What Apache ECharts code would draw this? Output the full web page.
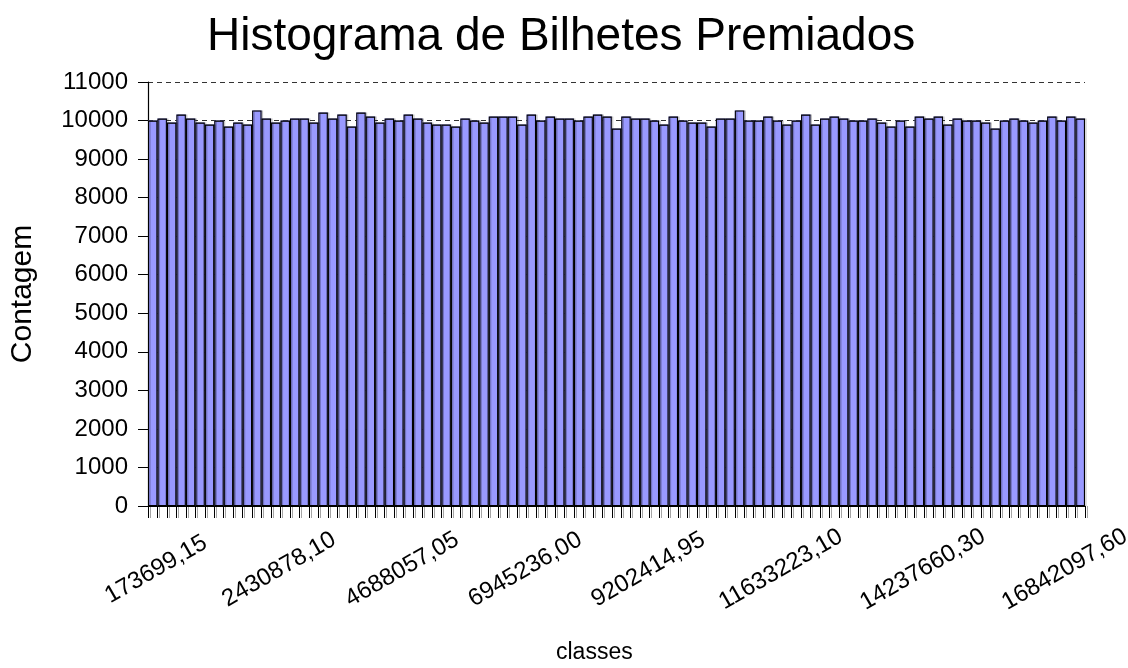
<!DOCTYPE html>
<html>
<head>
<meta charset="utf-8">
<script src="https://cdn.jsdelivr.net/npm/echarts@6/dist/echarts.min.js"></script>
<style>
html,body{margin:0;padding:0;background:#fff;}
#c{width:1128px;height:668px;}
</style>
</head>
<body>
<div id="c"></div>
<script>
// Bin counts (99 bins)
var counts = [
 10000,10052,9948,10156,10052,9948,9896,10000,9844,9948,
 9896,10260,10052,9948,10000,10052,10052,9948,10208,10052,
 10156,9844,10208,10104,9948,10052,10000,10156,10052,9948,
 9896,9896,9844,10052,10000,9948,10104,10104,10104,9896,
 10156,10000,10104,10052,10052,10000,10104,10156,10104,9792,
 10104,10052,10052,10000,9896,10104,10000,9948,9948,9844,
 10052,10052,10260,10000,10000,10104,10000,9896,10000,10156,
 9896,10052,10104,10052,10000,10000,10052,9948,9844,10000,
 9844,10104,10052,10104,9896,10052,10000,10000,9948,9792,
 10000,10052,10000,9948,10000,10104,10000,10104,10052
];
// Tick labels and the bins they sit under
var tickLabels = ['173699,15','2430878,10','4688057,05','6945236,00','9202414,95','11633223,10','14237660,30','16842097,60'];
var tickBins = [1, 14, 27, 40, 53, 67, 82, 97];
var yTicks = [0, 11000, 1000];

var categories = counts.map(function (_, i) {
  var k = tickBins.indexOf(i);
  return k >= 0 ? tickLabels[k] : 'bin' + (i + 1);
});

var FONT = '"Liberation Sans", Arial, Helvetica, sans-serif';
var chart = echarts.init(document.getElementById('c'), null, {renderer: 'canvas'});
chart.setOption({
  animation: false,
  backgroundColor: '#ffffff',
  title: {
    text: 'Histograma de Bilhetes Premiados',
    left: 202, top: 9,
    textStyle: {fontFamily: FONT, fontSize: 46, fontWeight: 'normal', color: '#000'}
  },
  graphic: [{
    type: 'text', left: 556, top: 641,
    style: {text: 'classes', font: '23px ' + FONT, fill: '#000'}
  }],
  grid: {left: 148, right: 43, top: 82, bottom: 162, containLabel: false, outerBoundsMode: 'none'},
  xAxis: {
    type: 'category',
    data: categories,
    boundaryGap: true,
    axisLine: {show: true, lineStyle: {color: '#000', width: 1.2}},
    axisTick: {show: true, interval: 0, length: 12, lineStyle: {color: '#000', width: 1,
      shadowColor: 'rgba(0,0,0,0.35)', shadowOffsetX: 2}},
    axisLabel: {
      interval: function (idx) { return tickBins.indexOf(idx) >= 0; },
      formatter: function (v) { return v; },
      rotate: 30, align: 'center', verticalAlign: 'middle', margin: 60,
      padding: [0, 14, 0, 0],
      fontFamily: FONT, fontSize: 24, color: '#000', hideOverlap: false
    },
    splitLine: {show: false}
  },
  yAxis: {
    type: 'value',
    min: yTicks[0], max: yTicks[1], interval: yTicks[2],
    name: 'Contagem', nameLocation: 'middle', nameGap: 110, nameRotate: 90,
    nameTextStyle: {fontFamily: FONT, fontSize: 30, color: '#000'},
    axisLine: {show: true, lineStyle: {color: '#000', width: 1.2}},
    axisTick: {show: true, length: 10, lineStyle: {color: '#000', width: 1}},
    axisLabel: {margin: 20, fontFamily: FONT, fontSize: 24, color: '#000',
      formatter: function (v) { return String(v); }},
    splitLine: {show: true, lineStyle: {color: '#333', type: [5, 4], width: 1}}
  },
  series: [{
    type: 'bar',
    data: counts,
    barCategoryGap: '0%',
    itemStyle: {color: '#9999ff'},
    z: 3
  }, {
    type: 'bar',
    data: counts,
    barCategoryGap: '0%',
    barGap: '-100%',
    silent: true,
    itemStyle: {color: 'rgba(0,0,0,0)', borderColor: '#000', borderWidth: 1.1,
      shadowColor: 'rgba(0,0,0,0.25)', shadowOffsetX: 1.5, shadowOffsetY: 0, shadowBlur: 0},
    z: 4
  }]
});
</script>
</body>
</html>
